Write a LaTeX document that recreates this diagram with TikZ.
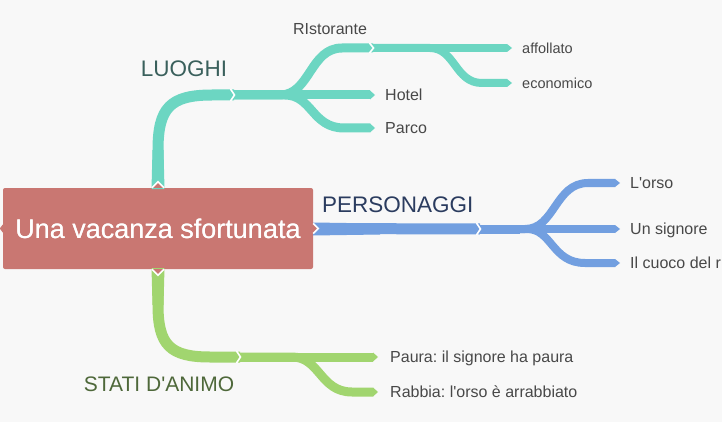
\documentclass[tikz,border=0pt]{standalone}
\usepackage{fontspec}
\setmainfont{Liberation Sans}[Ligatures=TeXOff]
\usetikzlibrary{arrows.meta}
\frenchspacing
\definecolor{bgc}{RGB}{248,248,248}
\definecolor{tealc}{RGB}{108,214,194}
\definecolor{bluec}{RGB}{114,159,224}
\definecolor{greenc}{RGB}{161,213,111}
\definecolor{boxc}{RGB}{201,119,114}
\definecolor{leafc}{RGB}{72,72,72}
\definecolor{luoghic}{RGB}{58,96,92}
\definecolor{persc}{RGB}{43,60,95}
\definecolor{static}{RGB}{78,104,58}
\begin{document}
\begin{tikzpicture}[x=1pt,y=-1pt,
  lwa/.style={line width=11pt},
  lwb/.style={line width=9pt},
  lwc/.style={line width=8pt},
  tp/.style={-{Triangle[width=0pt 1,length=5pt,line width=0pt]}},
  leaf/.style={font=\fontsize{16}{18}\selectfont, text=leafc, inner sep=0pt, anchor=base west},
  small/.style={font=\fontsize{14.5}{17}\selectfont, text=leafc, inner sep=0pt, anchor=base west},
  main/.style={font=\fontsize{22.5}{26}\selectfont, inner sep=0pt},
  rootbox/.style={fill=boxc, rounded corners=2pt, minimum width=310pt, minimum height=81pt,
    inner sep=0pt, text=white, font=\fontsize{27}{30}\selectfont},
  notch/.style={fill=boxc, draw=white, line width=1.5pt},
  chevron/.pic={\draw[white, line width=1.6pt] (-3.5,-#1) -- (0.5,0) -- (-3.5,#1);}
]
\fill[bgc] (0,0) rectangle (722,422);
\useasboundingbox (0,0) rectangle (722,422);

\node[rootbox] (root) at (158,228.5) {Una vacanza sfortunata};

% coordinates
\coordinate (tc) at (234,95);
\coordinate (tr) at (373,48);
\coordinate (tipHotel) at (375,95);
\coordinate (tipParco) at (375,128);
\coordinate (tipAff) at (512,48);
\coordinate (tipEco) at (512,83);
\coordinate (bc) at (480,229);
\coordinate (tipOrso) at (620,183);
\coordinate (tipSig) at (620,229);
\coordinate (tipCuoco) at (620,263);
\coordinate (gc) at (240,357);
\coordinate (tipPaura) at (378,357);
\coordinate (tipRabbia) at (378,392);

% teal branch
\fill[tealc] (151.5,189) -- (152.5,150) -- (163.5,150) -- (164.5,189) -- cycle;
\draw[tealc, lwa] (root.north) -- (158,150) .. controls (158,108) and (170,95) .. (212,95) -- (tc);
\draw[tealc, lwb] (tc) -- (280,95) .. controls (310,95) and (310,48) .. (342,48) -- (tr);
\draw[tealc, lwb, tp] (tc) -- (tipHotel);
\draw[tealc, lwb, tp] (tc) -- (285,95) .. controls (312,95) and (312,128) .. (344,128) -- (tipParco);
\draw[tealc, lwc, tp] (tr) -- (tipAff);
\draw[tealc, lwc, tp] (tr) -- (430,48) .. controls (455,48) and (455,83) .. (482,83) -- (tipEco);

% blue branch
\fill[bluec] (313,222.5) -- (380,223.5) -- (380,234.5) -- (313,235.5) -- cycle;
\draw[bluec, lwa] (root.east) -- (bc);
\draw[bluec, lwb] (bc) -- (520,229);
\draw[bluec, lwc, tp] (bc) -- (525,229) .. controls (555,229) and (555,183) .. (588,183) -- (tipOrso);
\draw[bluec, lwc, tp] (bc) -- (tipSig);
\draw[bluec, lwc, tp] (bc) -- (527,229) .. controls (552,229) and (552,263) .. (585,263) -- (tipCuoco);

% green branch
\fill[greenc] (151.5,268) -- (152.5,305) -- (163.5,305) -- (164.5,268) -- cycle;
\draw[greenc, lwa] (root.south) -- (158,305) .. controls (158,345) and (170,357) .. (210,357) -- (gc);
\draw[greenc, lwb, tp] (gc) -- (tipPaura);
\draw[greenc, lwb, tp] (gc) -- (292,357) .. controls (320,357) and (320,392) .. (352,392) -- (tipRabbia);

% notches of the root box
\draw[notch] ([xshift=-6pt]root.north) -- ([yshift=6pt]root.north) -- ([xshift=6pt]root.north);
\draw[notch] ([xshift=-6pt]root.south) -- ([yshift=-6pt]root.south) -- ([xshift=6pt]root.south);
\draw[notch] ([yshift=5pt]root.east) -- ([xshift=5pt]root.east) -- ([yshift=-5pt]root.east);
\fill[boxc] ([yshift=4pt]root.west) -- ([xshift=-3pt]root.west) -- ([yshift=-4pt]root.west) -- cycle;
\node[rootbox, fill=none] at (root.center) {Una vacanza sfortunata};

% chevrons
\pic at (tc) {chevron=6};
\pic at (tr) {chevron=5};
\pic at (bc) {chevron=6};
\pic at (gc) {chevron=6};

% labels
\node[main, text=luoghic, anchor=base] (luoghi) at (184,77) {LUOGHI};
\node[leaf, anchor=base] (ristorante) at (330,34.4) {RIstorante};
\node[leaf] (hotel) at (385,100.7) {Hotel};
\node[leaf] (parco) at (385,133.7) {Parco};
\node[small] (aff) at (522,53.2) {affollato};
\node[small] (eco) at (522,88.2) {economico};
\node[main, text=persc, anchor=base west] (pers) at (322,212.7) {PERSONAGGI};
\node[leaf] (orso) at (630,188.7) {L'orso};
\node[leaf] (sig) at (630,234.7) {Un signore};
\node[leaf] (cuoco) at (630,268.7) {Il cuoco del r};
\node[main, font=\fontsize{21}{24}\selectfont, text=static, anchor=base] (stati) at (159,391.5) {STATI D'ANIMO};
\node[leaf] (paura) at (390,362.7) {Paura: il signore ha paura};
\node[leaf] (rabbia) at (390,397.7) {Rabbia: l'orso è arrabbiato};
\end{tikzpicture}
\end{document}
